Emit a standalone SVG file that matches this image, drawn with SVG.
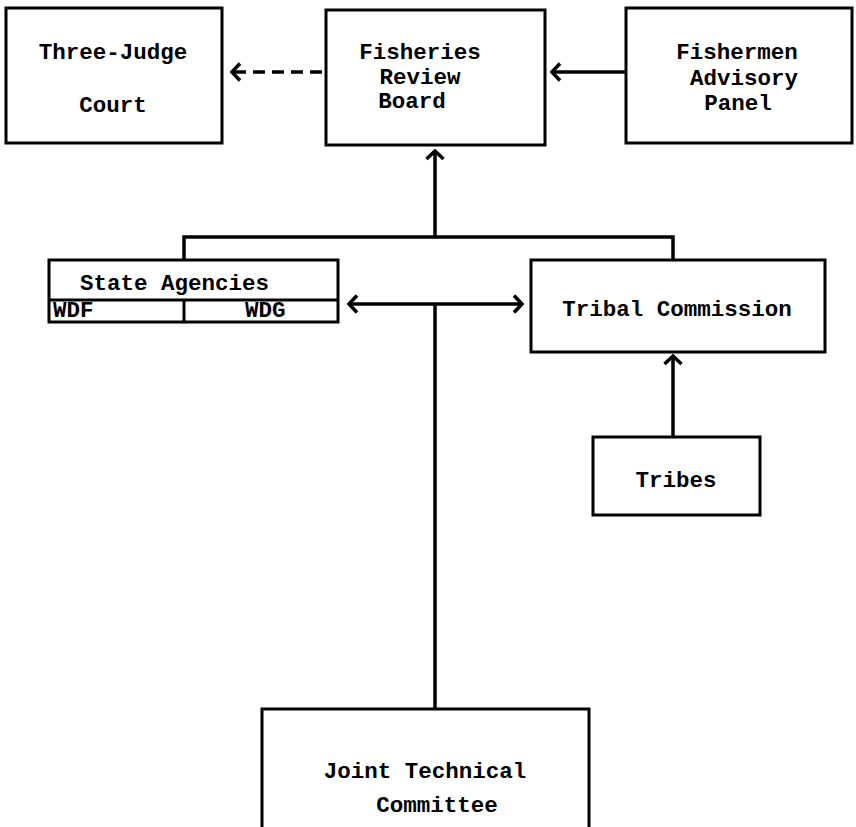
<svg xmlns="http://www.w3.org/2000/svg" width="856" height="827" viewBox="0 0 856 827">
<defs>
<style>
.box{fill:#fff;stroke:#000;stroke-width:3}
.t{font-family:"Liberation Mono","Courier New",monospace;font-weight:bold;font-size:22.5px;fill:#000}
.c{fill:none;stroke:#000;stroke-width:3.5}
</style>
<marker id="ah" viewBox="0 0 12 20" refX="10" refY="10" markerWidth="12" markerHeight="20" markerUnits="userSpaceOnUse" orient="auto-start-reverse">
<path d="M2,1.5 L10,10 L2,18.5" fill="none" stroke="#000" stroke-width="3.5"/>
</marker>
</defs>
<rect width="856" height="827" fill="#fff"/>
<g id="three-judge-court">
<rect class="box" x="6" y="8" width="216" height="135"/>
<text class="t" x="113" y="59" text-anchor="middle">Three-Judge</text>
<text class="t" x="113" y="112" text-anchor="middle">Court</text>
</g>
<g id="fisheries-review-board">
<rect class="box" x="326" y="10" width="219" height="135"/>
<text class="t" x="420" y="59" text-anchor="middle">Fisheries</text>
<text class="t" x="420" y="84" text-anchor="middle">Review</text>
<text class="t" x="412" y="108" text-anchor="middle">Board</text>
</g>
<g id="fishermen-advisory-panel">
<rect class="box" x="626" y="8" width="226" height="135"/>
<text class="t" x="737" y="59" text-anchor="middle">Fishermen</text>
<text class="t" x="744" y="85" text-anchor="middle">Advisory</text>
<text class="t" x="738" y="110" text-anchor="middle">Panel</text>
</g>
<g id="state-agencies">
<rect class="box" x="49" y="260" width="289" height="62"/>
<line class="box" x1="49" y1="300" x2="338" y2="300"/>
<line class="box" x1="184" y1="300" x2="184" y2="322"/>
<text class="t" x="80" y="290">State Agencies</text>
<text class="t" x="53" y="317">WDF</text>
<text class="t" x="245" y="317">WDG</text>
</g>
<g id="tribal-commission">
<rect class="box" x="531" y="260" width="294" height="92"/>
<text class="t" x="677" y="316" text-anchor="middle">Tribal Commission</text>
</g>
<g id="tribes">
<rect class="box" x="593" y="437" width="167" height="78"/>
<text class="t" x="676" y="487" text-anchor="middle">Tribes</text>
</g>
<g id="joint-technical-committee">
<rect class="box" x="262" y="709" width="327" height="130"/>
<text class="t" x="425" y="778" text-anchor="middle">Joint Technical</text>
<text class="t" x="437" y="812" text-anchor="middle">Committee</text>
</g>
<g id="connectors">
<line class="c" x1="322" y1="72" x2="232" y2="72" stroke-dasharray="12,7" marker-end="url(#ah)"/>
<line class="c" x1="625" y1="72" x2="552" y2="72" marker-end="url(#ah)"/>
<line class="c" x1="435" y1="237" x2="435" y2="151" marker-end="url(#ah)"/>
<polyline class="c" points="184,260 184,237 673,237 673,260"/>
<line class="c" x1="349" y1="304" x2="522" y2="304" marker-start="url(#ah)" marker-end="url(#ah)"/>
<line class="c" x1="435" y1="304" x2="435" y2="708"/>
<line class="c" x1="673" y1="437" x2="673" y2="356" marker-end="url(#ah)"/>
</g>
</svg>
